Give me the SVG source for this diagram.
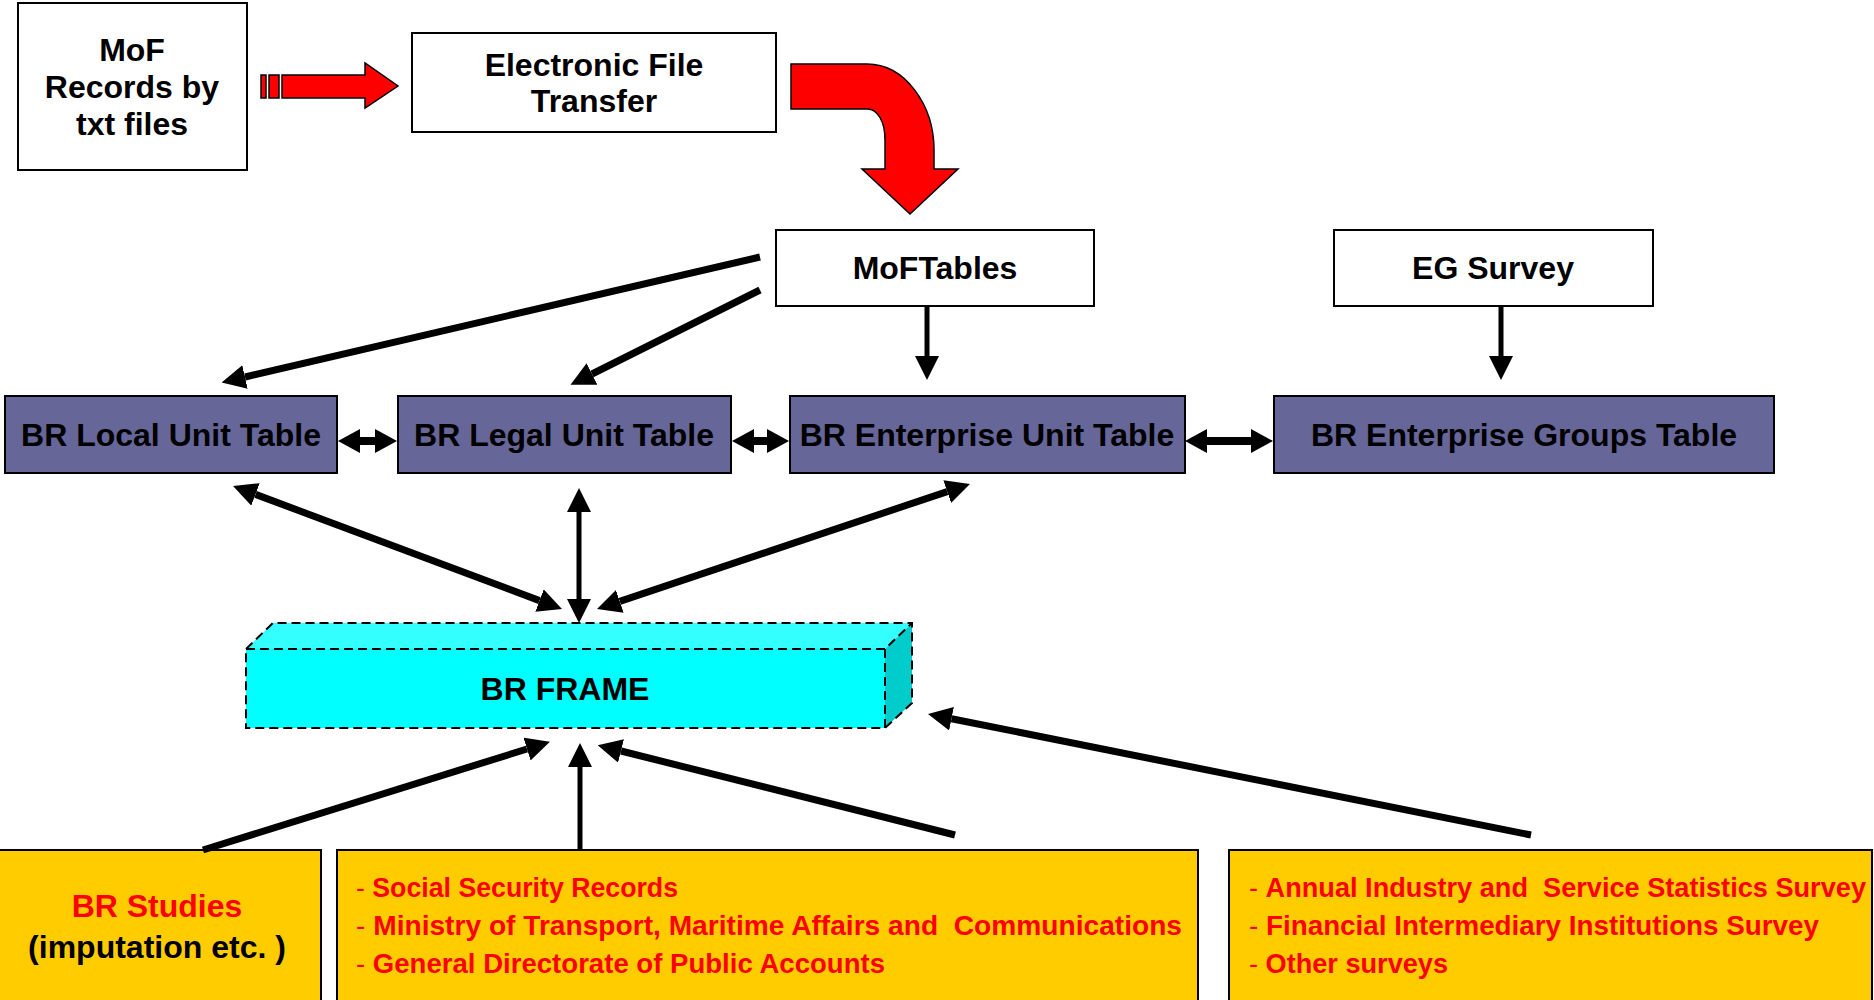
<svg xmlns="http://www.w3.org/2000/svg" width="1874" height="1000" viewBox="0 0 1874 1000">
<style>
.wb{fill:#fff;stroke:#000;stroke-width:2}
.bb{fill:#666699;stroke:#000;stroke-width:2}
.yb{fill:#FFCC00;stroke:#000;stroke-width:2}
.t{font-family:"Liberation Sans",Arial,sans-serif;font-weight:bold;font-size:32px;fill:#000;text-anchor:middle}
.lt{font-family:"Liberation Sans",Arial,sans-serif;font-weight:bold;font-size:27px;fill:#FF0000}
.lt .d{font-weight:normal}
.red{fill:#FF0000;stroke:#000;stroke-width:1.5;stroke-linejoin:miter}
.c{stroke:#000;fill:none;stroke-width:7}
.cv{stroke:#000;fill:none;stroke-width:5}
.cd{stroke:#000;fill:none;stroke-width:8}
</style>
<defs>
<marker id="ah" markerUnits="userSpaceOnUse" viewBox="0 0 24 24" markerWidth="24" markerHeight="24" refX="0" refY="12" orient="auto-start-reverse"><path d="M0,0 L24,12 L0,24 z" fill="#000"/></marker>
<marker id="ah2" markerUnits="userSpaceOnUse" viewBox="0 0 22 24" markerWidth="22" markerHeight="24" refX="0" refY="12" orient="auto-start-reverse"><path d="M0,0 L22,12 L0,24 z" fill="#000"/></marker>
</defs>

<g id="mof-records">
<rect class="wb" x="18" y="3" width="229" height="167"/>
<text class="t" x="132" y="61">MoF</text>
<text class="t" x="132" y="98">Records by</text>
<text class="t" x="132" y="135">txt files</text>
</g>

<g id="red-arrow-1">
<rect class="red" x="261" y="75" width="5" height="23"/>
<rect class="red" x="269" y="75" width="10" height="23"/>
<polygon class="red" points="282,75 365,75 365,63 398,86 365,108 365,98 282,98"/>
</g>

<g id="eft">
<rect class="wb" x="412" y="33" width="364" height="99"/>
<text class="t" x="594" y="76">Electronic File</text>
<text class="t" x="594" y="112">Transfer</text>
</g>

<g id="red-arrow-2">
<path class="red" d="M791,64 L867,64 C905,64 934,105 934,150 L934,169 L958,169 L910,214 L862,169 L885,169 L885,140 C885,122 878,109 867,109 L791,109 Z"/>
</g>

<g id="moftables">
<rect class="wb" x="776" y="230" width="318" height="76"/>
<text class="t" x="935" y="279">MoFTables</text>
</g>

<g id="eg-survey">
<rect class="wb" x="1334" y="230" width="319" height="76"/>
<text class="t" x="1493" y="279">EG Survey</text>
</g>

<g id="br-local">
<rect class="bb" x="5" y="396" width="332" height="77"/>
<text class="t" x="171" y="446">BR Local Unit Table</text>
</g>
<g id="br-legal">
<rect class="bb" x="398" y="396" width="333" height="77"/>
<text class="t" x="564" y="446">BR Legal Unit Table</text>
</g>
<g id="br-enterprise">
<rect class="bb" x="790" y="396" width="395" height="77"/>
<text class="t" x="987" y="446">BR Enterprise Unit Table</text>
</g>
<g id="br-groups">
<rect class="bb" x="1274" y="396" width="500" height="77"/>
<text class="t" x="1524" y="446">BR Enterprise Groups Table</text>
</g>

<g id="br-frame">
<polygon points="246,649 273,623 912,623 885,649" fill="#33FFFF"/>
<polygon points="885,649 912,623 912,703 885,728" fill="#00CCCC"/>
<rect x="246" y="649" width="639" height="79" fill="#00FFFF"/>
<g fill="none" stroke="#000" stroke-width="2" stroke-dasharray="9,5">
<polygon points="246,649 273,623 912,623 912,703 885,728 246,728"/>
<polyline points="246,649 885,649 912,623"/>
<line x1="885" y1="649" x2="885" y2="728"/>
</g>
<text class="t" x="565" y="700">BR FRAME</text>
</g>

<g id="br-studies">
<rect class="yb" x="-2" y="850" width="323" height="200"/>
<text class="t" x="157" y="917" fill="#FF0000" style="fill:#FF0000">BR Studies</text>
<text class="t" x="157" y="958">(imputation etc. )</text>
</g>

<g id="admin-sources">
<rect class="yb" x="337" y="850" width="861" height="200"/>
<text class="lt" x="356" y="897" xml:space="preserve" textLength="322" lengthAdjust="spacingAndGlyphs"><tspan class="d">- </tspan>Social Security Records</text>
<text class="lt" x="356" y="935" xml:space="preserve" textLength="826" lengthAdjust="spacingAndGlyphs"><tspan class="d">- </tspan>Ministry of Transport, Maritime Affairs and  Communications</text>
<text class="lt" x="356" y="973" xml:space="preserve" textLength="529" lengthAdjust="spacingAndGlyphs"><tspan class="d">- </tspan>General Directorate of Public Accounts</text>
</g>

<g id="surveys">
<rect class="yb" x="1229" y="850" width="643" height="200"/>
<text class="lt" x="1249" y="897" xml:space="preserve" textLength="617" lengthAdjust="spacingAndGlyphs"><tspan class="d">- </tspan>Annual Industry and  Service Statistics Survey</text>
<text class="lt" x="1249" y="935" xml:space="preserve" textLength="570" lengthAdjust="spacingAndGlyphs"><tspan class="d">- </tspan>Financial Intermediary Institutions Survey</text>
<text class="lt" x="1249" y="973" xml:space="preserve" textLength="199" lengthAdjust="spacingAndGlyphs"><tspan class="d">- </tspan>Other surveys</text>
</g>

<g id="connectors">
<line class="c" x1="760" y1="257" x2="245" y2="377" marker-end="url(#ah)"/>
<line class="c" x1="760" y1="290" x2="592" y2="374" marker-end="url(#ah)"/>
<line class="cv" x1="927" y1="306" x2="927" y2="356" marker-end="url(#ah)"/>
<line class="cv" x1="1501" y1="306" x2="1501" y2="356" marker-end="url(#ah)"/>
<line class="cd" x1="360" y1="441" x2="375" y2="441" marker-start="url(#ah2)" marker-end="url(#ah2)"/>
<line class="cd" x1="754" y1="441" x2="767" y2="441" marker-start="url(#ah2)" marker-end="url(#ah2)"/>
<line class="cd" x1="1207" y1="441" x2="1251" y2="441" marker-start="url(#ah2)" marker-end="url(#ah2)"/>
<line class="c" x1="255.5" y1="494.4" x2="539.5" y2="600.6" marker-start="url(#ah)" marker-end="url(#ah)"/>
<line class="cv" x1="579" y1="512" x2="579" y2="599" marker-start="url(#ah)" marker-end="url(#ah)"/>
<line class="c" x1="947.2" y1="491.6" x2="619.8" y2="601.4" marker-start="url(#ah)" marker-end="url(#ah)"/>
<line class="c" x1="203" y1="850" x2="527" y2="749" marker-end="url(#ah)"/>
<line class="cv" x1="580" y1="849" x2="580" y2="767" marker-end="url(#ah)"/>
<line class="c" x1="955" y1="835" x2="621" y2="751" marker-end="url(#ah)"/>
<line class="c" x1="1531" y1="835" x2="951.5" y2="718.7" marker-end="url(#ah)"/>
</g>
</svg>
